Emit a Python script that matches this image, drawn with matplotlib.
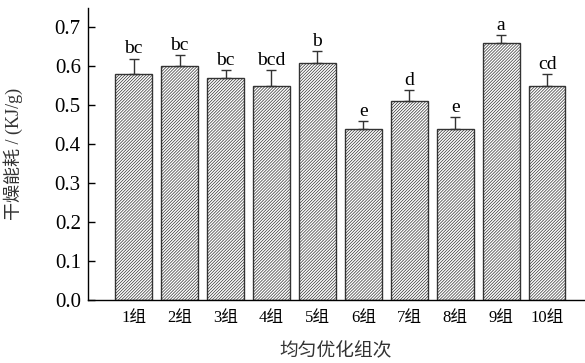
import numpy as np
import matplotlib.pyplot as plt

plt.rcParams['font.family'] = ['Liberation Serif', 'Noto Sans CJK SC']
plt.rcParams['hatch.linewidth'] = 0.5
plt.rcParams['hatch.color'] = '#555555'

groups = ['1组', '2组', '3组', '4组', '5组', '6组', '7组', '8组', '9组', '10组']
energy = [0.58, 0.60, 0.57, 0.55, 0.61, 0.44, 0.51, 0.44, 0.66, 0.55]
err = [0.04, 0.03, 0.02, 0.04, 0.03, 0.02, 0.03, 0.03, 0.02, 0.03]
letters = ['bc', 'bc', 'bc', 'bcd', 'b', 'e', 'd', 'e', 'a', 'cd']

fig = plt.figure(figsize=(5.85, 3.63), dpi=100)
ax = fig.add_axes([0.150, 0.173, 0.848, 0.805])

x = np.arange(1, len(groups) + 1)
ax.bar(x, energy, width=0.8, color='white', edgecolor='#333333',
       linewidth=1.0, hatch='///////////', zorder=2)
ax.errorbar(x, energy, yerr=[np.zeros(len(err)), err], fmt='none',
            ecolor='#333333', elinewidth=1.0, capsize=3.5, capthick=1.0, zorder=3)

for xi, v, e, s in zip(x, energy, err, letters):
    ax.text(xi, v + e + 0.003, s, ha='center', va='bottom', fontsize=14)

ax.set_xlim(0, 10.8)
ax.set_ylim(0, 0.75)
ax.set_yticks(np.arange(0, 0.71, 0.1))
ax.set_yticklabels(['%.1f' % t for t in np.arange(0, 0.71, 0.1)], fontsize=15)
ax.set_xticks(x)
ax.set_xticklabels(groups, fontsize=12)
ax.tick_params(axis='y', direction='in', length=5, width=1, pad=5)
ax.tick_params(axis='x', length=0, pad=7)
ax.spines['top'].set_visible(False)
ax.spines['right'].set_visible(False)
ax.spines['left'].set_linewidth(1.0)
ax.spines['bottom'].set_linewidth(1.0)

ax.set_ylabel('干燥能耗 / (KJ/g)', fontsize=13, color='#333333')
ax.yaxis.set_label_coords(-0.13, 0.5)
ax.set_xlabel('均匀优化组次', fontsize=13.5, color='#333333', va='center')
ax.xaxis.set_label_coords(0.5, -0.175)

fig.savefig('out.png', dpi=100)
